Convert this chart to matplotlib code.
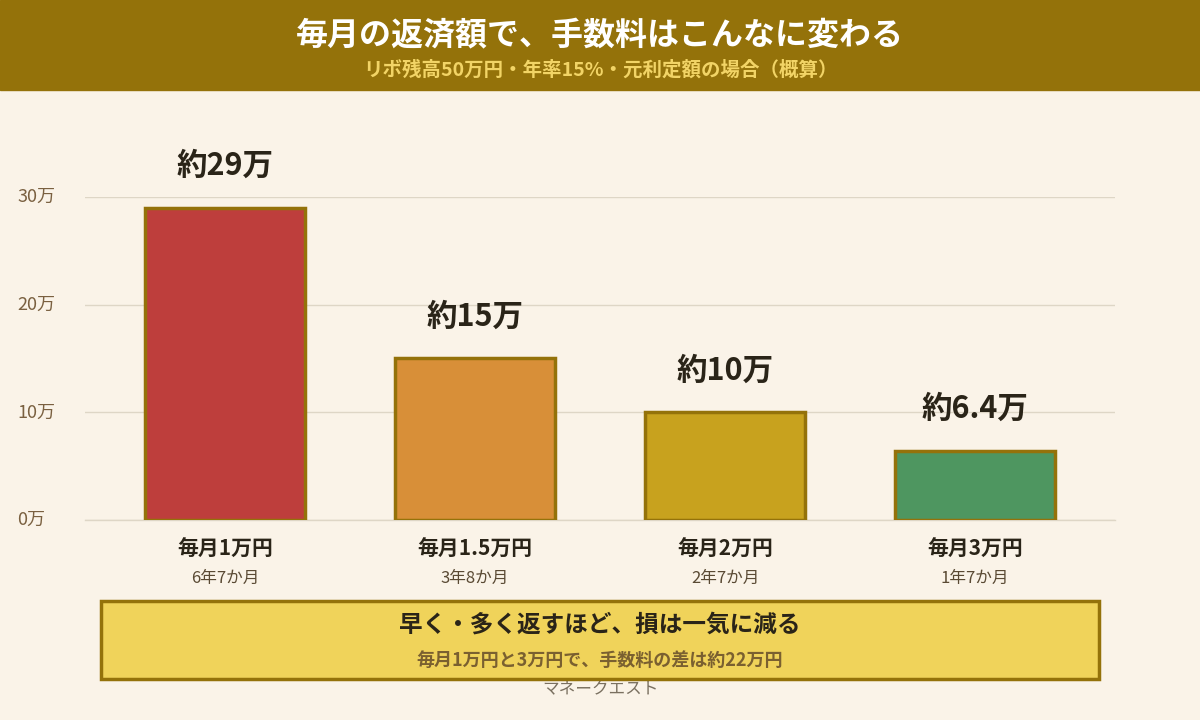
import matplotlib
matplotlib.use("Agg")
import matplotlib.pyplot as plt
from matplotlib.patches import Rectangle

plt.rcParams['font.family'] = ['Noto Sans CJK JP', 'DejaVu Sans']

categories = ["毎月1万円", "毎月1.5万円", "毎月2万円", "毎月3万円"]
periods = ["6年7か月", "3年8か月", "2年7か月", "1年7か月"]
fees = [29, 15, 10, 6.4]
fee_labels = ["約29万", "約15万", "約10万", "約6.4万"]
yticks = [0, 10, 20, 30]
ytick_labels = ["0万", "10万", "20万", "30万"]
colors = ["#BE3E3C", "#D88F38", "#C8A21E", "#4E9660"]

BG = "#FAF3E8"
GOLD = "#94720A"
W, H = 1200, 720

fig = plt.figure(figsize=(12, 7.2), dpi=100, facecolor=BG)

def fx(px): return px / W
def fy(py): return 1 - py / H

# header band
fig.patches.append(Rectangle((0, fy(90)), 1, 90 / H, transform=fig.transFigure,
                             color=GOLD, zorder=0))
fig.text(0.5, fy(36), "毎月の返済額で、手数料はこんなに変わる", ha="center", va="center",
         color="white", fontsize=23, fontweight="bold")
fig.text(0.5, fy(70), "リボ残高50万円・年率15%・元利定額の場合（概算）", ha="center",
         va="center", color="#F2D466", fontsize=14, fontweight="bold")

ax = fig.add_axes([fx(85), fy(520), fx(1115) - fx(85), (520 - 197) / H])
ax.set_facecolor(BG)
x = list(range(len(fees)))
ax.bar(x, fees, width=0.64, color=colors, edgecolor=GOLD, linewidth=2.5, zorder=3)
ax.set_xlim(-0.56, 3.56)
ax.set_ylim(0, 30)
for s in ax.spines.values():
    s.set_visible(False)
ax.set_yticks(yticks)
ax.set_yticklabels([])
ax.set_xticks([])
ax.tick_params(length=0)
ax.grid(axis="y", color="#DED6C6", linewidth=1, zorder=0)
ax.axhline(0, color="#DED6C6", linewidth=1, zorder=1, clip_on=False)
for v, lab in zip(yticks, ytick_labels):
    ax.text(-0.83, v, lab, ha="left", va="center", color="#7A6040", fontsize=13,
            clip_on=False)
for i, (v, lab) in enumerate(zip(fees, fee_labels)):
    ax.text(i, v + 2.4, lab, ha="center", va="bottom", fontsize=22,
            fontweight="bold", color="#2A2418", clip_on=False)
    ax.text(i, -2.7, categories[i], ha="center", va="center", fontsize=15,
            fontweight="bold", color="#2A2418", clip_on=False)
    ax.text(i, -5.4, periods[i], ha="center", va="center", fontsize=12,
            color="#5A4A34", clip_on=False)

# bottom message box
fig.patches.append(Rectangle((fx(101), fy(679)), fx(1099) - fx(101), 78 / H,
                             transform=fig.transFigure, facecolor="#F0D35A",
                             edgecolor=GOLD, linewidth=2.5, zorder=1))
fig.text(0.5, fy(625), "早く・多く返すほど、損は一気に減る", ha="center", va="center",
         fontsize=17, fontweight="bold", color="#2A2418")
fig.text(0.5, fy(660), "毎月1万円と3万円で、手数料の差は約22万円", ha="center",
         va="center", fontsize=13, fontweight="bold", color="#7A6030")
fig.text(0.5, fy(690), "マネークエスト", ha="center", va="center", fontsize=12,
         color="#7A7060", zorder=0)

fig.savefig("out.png", dpi=100, facecolor=BG)
